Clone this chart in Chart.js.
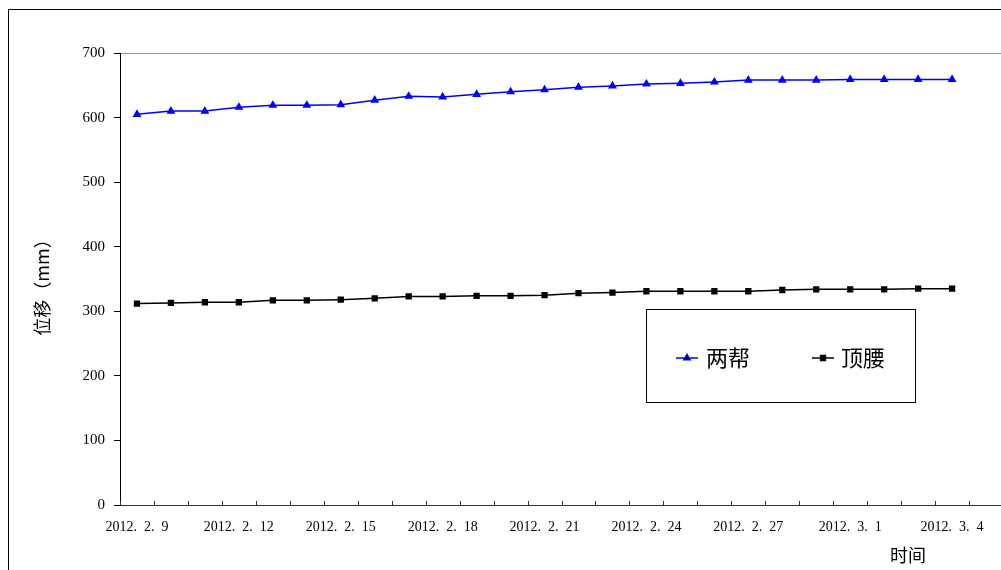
<!DOCTYPE html>
<html>
<head>
<meta charset="utf-8">
<script src="https://cdn.jsdelivr.net/npm/chart.js@4.4.1/dist/chart.umd.min.js"></script>
<style>
  html, body { margin: 0; padding: 0; background: #fff; overflow: hidden; width: 1001px; height: 570px; }
  #c { position: absolute; left: 0; top: 0; }
</style>
</head>
<body>
<canvas id="c" width="1060" height="570"></canvas>
<script>
// Categories (dates); the plot area continues past the visible right edge
const categories = [
  '2012.2.9','2012.2.10','2012.2.11','2012.2.12','2012.2.13','2012.2.14','2012.2.15',
  '2012.2.16','2012.2.17','2012.2.18','2012.2.19','2012.2.20','2012.2.21','2012.2.22',
  '2012.2.23','2012.2.24','2012.2.25','2012.2.26','2012.2.27','2012.2.28','2012.2.29',
  '2012.3.1','2012.3.2','2012.3.3','2012.3.4','2012.3.5','2012.3.6'
];
const seriesNames = ['两帮', '顶腰'];
const liangBang = [605,610,610,616,619,619,620,627,633,632,636,640,643,647,649,652,653,655,658,658,658,659,659,659,659];
const dingYao   = [312,313,314,314,317,317,318,320,323,323,324,324,325,328,329,331,331,331,331,333,334,334,334,335,335];
const yTicks = [0,100,200,300,400,500,600,700];
const yTitle = '位移（mm）';
const xTitle = '时间';

const CJK = '"Noto Sans CJK SC", sans-serif';
const SERIF = '"Liberation Serif", "DejaVu Serif", serif';

const decorPlugin = {
  id: 'decor',
  beforeDraw(chart) {
    const ctx = chart.ctx;
    ctx.save();
    ctx.fillStyle = '#fff';
    ctx.fillRect(0, 0, chart.width, chart.height);
    ctx.restore();
  },
  afterDraw(chart) {
    const ctx = chart.ctx;
    const ca = chart.chartArea;
    const xs = chart.scales.x;
    ctx.save();
    // outer frame
    ctx.strokeStyle = '#000';
    ctx.lineWidth = 1;
    ctx.strokeRect(8.5, 9.5, 3000, 3000);
    // inward tick marks on x axis at category boundaries
    ctx.strokeStyle = '#333';
    ctx.beginPath();
    for (let i = 0; i <= categories.length; i++) {
      const x = Math.round(xs.getPixelForValue(i - 0.5)) + 0.5;
      ctx.moveTo(x, ca.bottom);
      ctx.lineTo(x, ca.bottom - 4);
    }
    ctx.stroke();
    // axis titles
    ctx.fillStyle = '#000';
    ctx.font = '18px ' + CJK;
    ctx.textAlign = 'center';
    ctx.textBaseline = 'middle';
    ctx.save();
    ctx.translate(42, 283);
    ctx.rotate(-Math.PI / 2);
    ctx.fillText(yTitle, 0, 0);
    ctx.restore();
    ctx.fillText(xTitle, 908, 555);
    // legend box
    ctx.strokeStyle = '#000';
    ctx.strokeRect(646.5, 309.5, 269, 93);
    const items = [
      { ds: chart.data.datasets[0], x0: 676, x1: 698, tx: 706 },
      { ds: chart.data.datasets[1], x0: 812, x1: 834, tx: 841 }
    ];
    const ly = 358;
    items.forEach(it => {
      ctx.strokeStyle = it.ds.borderColor;
      ctx.lineWidth = 1.5;
      ctx.beginPath();
      ctx.moveTo(it.x0, ly); ctx.lineTo(it.x1, ly);
      ctx.stroke();
      Chart.helpers.drawPoint(ctx, {
        pointStyle: it.ds.pointStyle, radius: it.ds.pointRadius, rotation: 0, borderWidth: 1
      }, (it.x0 + it.x1) / 2, ly);
      ctx.fillStyle = '#000';
      ctx.font = '22px ' + CJK;
      ctx.textAlign = 'left';
      ctx.textBaseline = 'middle';
      ctx.fillText(it.ds.label, it.tx, ly);
    });
    ctx.restore();
  }
};

// Chart.helpers.drawPoint needs fill/stroke styles set; wrap for legend
const origDrawPoint = Chart.helpers.drawPoint;

new Chart(document.getElementById('c'), {
  type: 'line',
  data: {
    labels: categories,
    datasets: [
      {
        label: seriesNames[0], data: liangBang,
        borderColor: '#0000ff', backgroundColor: '#0000ff',
        borderWidth: 1.5, pointStyle: 'triangle', pointRadius: 3.6,
        pointBorderColor: '#0000ff', pointBackgroundColor: '#0000ff',
        tension: 0, fill: false
      },
      {
        label: seriesNames[1], data: dingYao,
        borderColor: '#000000', backgroundColor: '#000000',
        borderWidth: 1.5, pointStyle: 'rect', pointRadius: 3.4,
        pointBorderColor: '#000000', pointBackgroundColor: '#000000',
        tension: 0, fill: false
      }
    ]
  },
  options: {
    responsive: false,
    animation: false,
    devicePixelRatio: 1,
    layout: { padding: { top: 53, right: 23, bottom: 0, left: 0 } },
    plugins: { legend: { display: false }, tooltip: { enabled: false } },
    scales: {
      x: {
        type: 'category',
        offset: true,
        afterFit: (s) => { s.height = 65; },
        border: { display: true, color: '#333', width: 1 },
        grid: { display: true, offset: true, drawOnChartArea: false, drawTicks: false, color: 'transparent' },
        ticks: {
          autoSkip: false, maxRotation: 0, minRotation: 0, padding: 14,
          color: '#000', font: { family: SERIF, size: 14 },
          callback: function (val, idx) {
            return idx % 3 === 0 ? this.getLabelForValue(val).replace(/\./g, '.\u2002') : '';
          }
        }
      },
      y: {
        min: 0, max: 700,
        afterFit: (s) => { s.width = 120; },
        afterBuildTicks: (s) => { s.ticks = yTicks.map(v => ({ value: v })); },
        border: { display: true, color: '#000', width: 1 },
        grid: {
          display: true, drawOnChartArea: true, drawTicks: true, tickLength: 6,
          tickColor: '#000',
          color: (c) => (c.tick && c.tick.value === 700) ? '#999' : 'transparent'
        },
        ticks: {
          stepSize: 100, padding: 9,
          color: '#000', font: { family: SERIF, size: 15 }
        }
      }
    }
  },
  plugins: [decorPlugin]
});
</script>
</body>
</html>
